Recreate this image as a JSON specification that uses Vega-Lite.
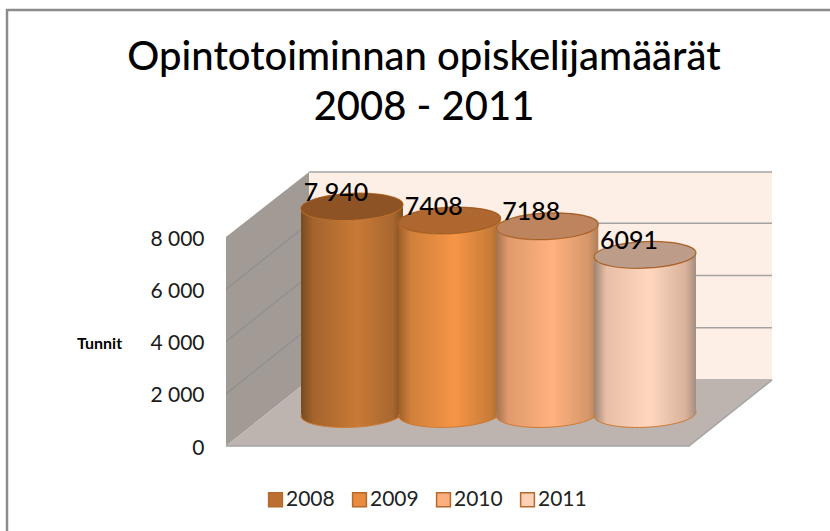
{"$schema":"https://vega.github.io/schema/vega-lite/v6.json","width":830,"height":531,"autosize":"none","padding":0,"background":"white","config":{"view":{"stroke":null},"font":"Lato"},"title":{"text":["Opintotoiminnan opiskelijamäärät","2008 - 2011"],"font":"Lato","fontSize":40,"fontWeight":500,"color":"#000000","lineHeight":50,"anchor":"middle","frame":"group","dx":9,"dy":164,"baseline":"alphabetic"},"datasets":{"main":[{"vuosi":"2008","tunnit":7940,"nimi":"7 940"},{"vuosi":"2009","tunnit":7408,"nimi":"7408"},{"vuosi":"2010","tunnit":7188,"nimi":"7188"},{"vuosi":"2011","tunnit":6091,"nimi":"6091"}]},"resolve":{"scale":{"x":"independent"}},"layer":[{"data":{"values":[{"i":0,"a":-1.892,"v":-3254},{"i":1,"a":-1.892,"v":16692},{"i":2,"a":5.218,"v":16692}]},"mark":{"type":"line","stroke":"#8c8c8c","strokeWidth":2.5},"encoding":{"x":{"field":"a","type":"quantitative","scale":{"domain":[-1.9525,5.218],"nice":false,"zero":false},"axis":null},"order":{"field":"i"},"y":{"field":"v","type":"quantitative","scale":{"domain":[-3254,17075],"nice":false,"zero":false},"axis":{"values":[0,2000,4000,6000,8000],"offset":-204,"domain":false,"ticks":false,"grid":false,"labelPadding":0,"labelOffset":2,"labelFontSize":21,"labelColor":"#1a1a1a","labelFont":"Lato","labelExpr":"replace(format(datum.value,','),',',' ')","title":"Tunnit","titleFontSize":16,"titleFont":"Lato","titleFontWeight":"bold","titleColor":"#000000","titleAngle":0,"titleAlign":"center","titleBaseline":"middle","titleX":-105,"titleY":343}}}},{"data":{"values":[{"a":0.717,"b":4.717,"c":2527,"d":10490}]},"mark":{"type":"rect","fill":"#fdeee6"},"encoding":{"x":{"field":"a","type":"quantitative","scale":{"domain":[-1.9525,5.218],"nice":false,"zero":false},"axis":null},"x2":{"field":"b"},"y":{"field":"c","type":"quantitative"},"y2":{"field":"d"}}},{"data":{"values":[{"g":"0","a":0.717,"v":2527},{"g":"0","a":4.717,"v":2527},{"g":"1","a":0.717,"v":4527},{"g":"1","a":4.717,"v":4527},{"g":"2","a":0.717,"v":6527},{"g":"2","a":4.717,"v":6527},{"g":"3","a":0.717,"v":8527},{"g":"3","a":4.717,"v":8527},{"g":"4","a":0.717,"v":10490},{"g":"4","a":4.717,"v":10490}]},"mark":{"type":"line","stroke":"#a3a3a3","strokeWidth":1.5},"encoding":{"x":{"field":"a","type":"quantitative","scale":{"domain":[-1.9525,5.218],"nice":false,"zero":false},"axis":null},"y":{"field":"v","type":"quantitative"},"detail":{"field":"g"}}},{"data":{"values":[{"a":0,"t":8000,"u":0},{"a":0.717,"t":10490,"u":2527}]},"mark":{"type":"area","orient":"vertical","interpolate":"linear","fill":"#a29a95"},"encoding":{"x":{"field":"a","type":"quantitative","scale":{"domain":[-1.9525,5.218],"nice":false,"zero":false},"axis":null},"y":{"field":"t","type":"quantitative"},"y2":{"field":"u"}}},{"data":{"values":[{"g":"1","a":0,"v":2000},{"g":"1","a":0.717,"v":4527},{"g":"2","a":0,"v":4000},{"g":"2","a":0.717,"v":6527},{"g":"3","a":0,"v":6000},{"g":"3","a":0.717,"v":8527}]},"mark":{"type":"line","stroke":"#8f8f8f","strokeWidth":1.2},"encoding":{"x":{"field":"a","type":"quantitative","scale":{"domain":[-1.9525,5.218],"nice":false,"zero":false},"axis":null},"y":{"field":"v","type":"quantitative"},"detail":{"field":"g"}}},{"data":{"values":[{"v":0,"a":0,"b":4},{"v":2527,"a":0.717,"b":4.717}]},"mark":{"type":"area","orient":"horizontal","interpolate":"linear","fill":"#bdb3af"},"encoding":{"y":{"field":"v","type":"quantitative"},"x":{"field":"a","type":"quantitative","scale":{"domain":[-1.9525,5.218],"nice":false,"zero":false},"axis":null},"x2":{"field":"b"}}},{"data":{"values":[{"i":0,"a":0,"v":0},{"i":1,"a":4,"v":0},{"i":2,"a":4.717,"v":2527}]},"mark":{"type":"line","stroke":"#a3a3a3","strokeWidth":1.5},"encoding":{"x":{"field":"a","type":"quantitative","scale":{"domain":[-1.9525,5.218],"nice":false,"zero":false},"axis":null},"y":{"field":"v","type":"quantitative"},"order":{"field":"i"}}},{"data":{"name":"main"},"transform":[{"filter":"datum.vuosi=='2008'"}],"mark":{"type":"point","filled":true,"opacity":1,"size":10404,"shape":"M-1,0.04A1,0.26 -2.5 1 0 1,-0.04A1,0.26 -2.5 1 0 -1,0.04Z","yOffset":-32,"stroke":"#d07a33","strokeWidth":1,"fill":{"gradient":"linear","x1":0,"y1":0,"x2":1,"y2":0,"stops":[{"offset":0,"color":"#774a20"},{"offset":0.12,"color":"#a5642c"},{"offset":0.55,"color":"#c87a36"},{"offset":0.9,"color":"#a9672f"},{"offset":1,"color":"#7d4e22"}]}},"encoding":{"x":{"field":"vuosi","type":"ordinal","scale":{"type":"point","padding":0,"domain":["2008","2009","2010","2011"],"range":[352,645]},"axis":null},"y":{"datum":0,"type":"quantitative"}}},{"data":{"name":"main"},"transform":[{"filter":"datum.vuosi=='2008'"}],"mark":{"type":"bar","width":102,"yOffset":-32,"y2Offset":-32,"fill":{"gradient":"linear","x1":0,"y1":0,"x2":1,"y2":0,"stops":[{"offset":0,"color":"#774a20"},{"offset":0.12,"color":"#a5642c"},{"offset":0.55,"color":"#c87a36"},{"offset":0.9,"color":"#a9672f"},{"offset":1,"color":"#7d4e22"}]}},"encoding":{"x":{"field":"vuosi","type":"ordinal","scale":{"type":"point","padding":0,"domain":["2008","2009","2010","2011"],"range":[352,645]},"axis":null},"y":{"field":"tunnit","type":"quantitative"},"y2":{"datum":0}}},{"data":{"name":"main"},"transform":[{"filter":"datum.vuosi=='2009'"}],"mark":{"type":"point","filled":true,"opacity":1,"size":10404,"shape":"M-1,0.04A1,0.26 -2.5 1 0 1,-0.04A1,0.26 -2.5 1 0 -1,0.04Z","yOffset":-32,"stroke":"#d07a33","strokeWidth":1,"fill":{"gradient":"linear","x1":0,"y1":0,"x2":1,"y2":0,"stops":[{"offset":0,"color":"#a0602a"},{"offset":0.12,"color":"#d0803a"},{"offset":0.55,"color":"#f79547"},{"offset":0.9,"color":"#c87c38"},{"offset":1,"color":"#a86a30"}]}},"encoding":{"x":{"field":"vuosi","type":"ordinal","scale":{"type":"point","padding":0,"domain":["2008","2009","2010","2011"],"range":[352,645]},"axis":null},"y":{"datum":0,"type":"quantitative"}}},{"data":{"name":"main"},"transform":[{"filter":"datum.vuosi=='2009'"}],"mark":{"type":"bar","width":102,"yOffset":-32,"y2Offset":-32,"fill":{"gradient":"linear","x1":0,"y1":0,"x2":1,"y2":0,"stops":[{"offset":0,"color":"#a0602a"},{"offset":0.12,"color":"#d0803a"},{"offset":0.55,"color":"#f79547"},{"offset":0.9,"color":"#c87c38"},{"offset":1,"color":"#a86a30"}]}},"encoding":{"x":{"field":"vuosi","type":"ordinal","scale":{"type":"point","padding":0,"domain":["2008","2009","2010","2011"],"range":[352,645]},"axis":null},"y":{"field":"tunnit","type":"quantitative"},"y2":{"datum":0}}},{"data":{"name":"main"},"transform":[{"filter":"datum.vuosi=='2010'"}],"mark":{"type":"point","filled":true,"opacity":1,"size":10404,"shape":"M-1,0.04A1,0.26 -2.5 1 0 1,-0.04A1,0.26 -2.5 1 0 -1,0.04Z","yOffset":-32,"stroke":"#d07a33","strokeWidth":1,"fill":{"gradient":"linear","x1":0,"y1":0,"x2":1,"y2":0,"stops":[{"offset":0,"color":"#a5734f"},{"offset":0.12,"color":"#e09a6d"},{"offset":0.55,"color":"#ffb27e"},{"offset":0.9,"color":"#d6976a"},{"offset":1,"color":"#ae7f5b"}]}},"encoding":{"x":{"field":"vuosi","type":"ordinal","scale":{"type":"point","padding":0,"domain":["2008","2009","2010","2011"],"range":[352,645]},"axis":null},"y":{"datum":0,"type":"quantitative"}}},{"data":{"name":"main"},"transform":[{"filter":"datum.vuosi=='2010'"}],"mark":{"type":"bar","width":102,"yOffset":-32,"y2Offset":-32,"fill":{"gradient":"linear","x1":0,"y1":0,"x2":1,"y2":0,"stops":[{"offset":0,"color":"#a5734f"},{"offset":0.12,"color":"#e09a6d"},{"offset":0.55,"color":"#ffb27e"},{"offset":0.9,"color":"#d6976a"},{"offset":1,"color":"#ae7f5b"}]}},"encoding":{"x":{"field":"vuosi","type":"ordinal","scale":{"type":"point","padding":0,"domain":["2008","2009","2010","2011"],"range":[352,645]},"axis":null},"y":{"field":"tunnit","type":"quantitative"},"y2":{"datum":0}}},{"data":{"name":"main"},"transform":[{"filter":"datum.vuosi=='2011'"}],"mark":{"type":"point","filled":true,"opacity":1,"size":10404,"shape":"M-1,0.04A1,0.26 -2.5 1 0 1,-0.04A1,0.26 -2.5 1 0 -1,0.04Z","yOffset":-32,"stroke":"#d07a33","strokeWidth":1,"fill":{"gradient":"linear","x1":0,"y1":0,"x2":1,"y2":0,"stops":[{"offset":0,"color":"#9c8474"},{"offset":0.12,"color":"#e9bea6"},{"offset":0.55,"color":"#ffd7bf"},{"offset":0.9,"color":"#d8b29c"},{"offset":1,"color":"#a58d7f"}]}},"encoding":{"x":{"field":"vuosi","type":"ordinal","scale":{"type":"point","padding":0,"domain":["2008","2009","2010","2011"],"range":[352,645]},"axis":null},"y":{"datum":0,"type":"quantitative"}}},{"data":{"name":"main"},"transform":[{"filter":"datum.vuosi=='2011'"}],"mark":{"type":"bar","width":102,"yOffset":-32,"y2Offset":-32,"fill":{"gradient":"linear","x1":0,"y1":0,"x2":1,"y2":0,"stops":[{"offset":0,"color":"#9c8474"},{"offset":0.12,"color":"#e9bea6"},{"offset":0.55,"color":"#ffd7bf"},{"offset":0.9,"color":"#d8b29c"},{"offset":1,"color":"#a58d7f"}]}},"encoding":{"x":{"field":"vuosi","type":"ordinal","scale":{"type":"point","padding":0,"domain":["2008","2009","2010","2011"],"range":[352,645]},"axis":null},"y":{"field":"tunnit","type":"quantitative"},"y2":{"datum":0}}},{"data":{"name":"main"},"mark":{"type":"point","filled":true,"opacity":1,"size":10404,"shape":"M-1,0.04A1,0.26 -2.5 1 0 1,-0.04A1,0.26 -2.5 1 0 -1,0.04Z","yOffset":-32,"stroke":"#c4722f","strokeWidth":1.2},"encoding":{"x":{"field":"vuosi","type":"ordinal","scale":{"type":"point","padding":0,"domain":["2008","2009","2010","2011"],"range":[352,645]},"axis":null},"y":{"field":"tunnit","type":"quantitative"},"color":{"field":"vuosi","type":"nominal","scale":{"domain":["2008","2009","2010","2011"],"range":["#bd6f30","#e88b3f","#fdb07e","#fdd1b8"]},"legend":{"orient":"none","legendX":265,"legendY":489,"direction":"horizontal","columns":4,"title":null,"symbolType":"square","symbolSize":190,"symbolStrokeColor":"#b5692b","symbolStrokeWidth":1.5,"symbolOpacity":1,"labelFontSize":21,"labelFont":"Lato","labelColor":"#222222","labelOffset":0,"columnPadding":14,"labelLimit":100}}}},{"data":{"name":"main"},"mark":{"type":"point","filled":true,"fill":"#000000","opacity":0.25,"size":10404,"shape":"M-1,0.04A1,0.26 -2.5 1 0 1,-0.04A1,0.26 -2.5 1 0 -1,0.04Z","yOffset":-32,"strokeWidth":0},"encoding":{"x":{"field":"vuosi","type":"ordinal","scale":{"type":"point","padding":0,"domain":["2008","2009","2010","2011"],"range":[352,645]},"axis":null},"y":{"field":"tunnit","type":"quantitative"}}},{"data":{"name":"main"},"mark":{"type":"text","fontSize":25,"font":"Lato","fontWeight":500,"color":"#000000","baseline":"middle","align":"center","xOffset":-16,"yOffset":-46},"encoding":{"x":{"field":"vuosi","type":"ordinal","scale":{"type":"point","padding":0,"domain":["2008","2009","2010","2011"],"range":[352,645]},"axis":null},"y":{"field":"tunnit","type":"quantitative"},"text":{"field":"nimi"}}}]}
